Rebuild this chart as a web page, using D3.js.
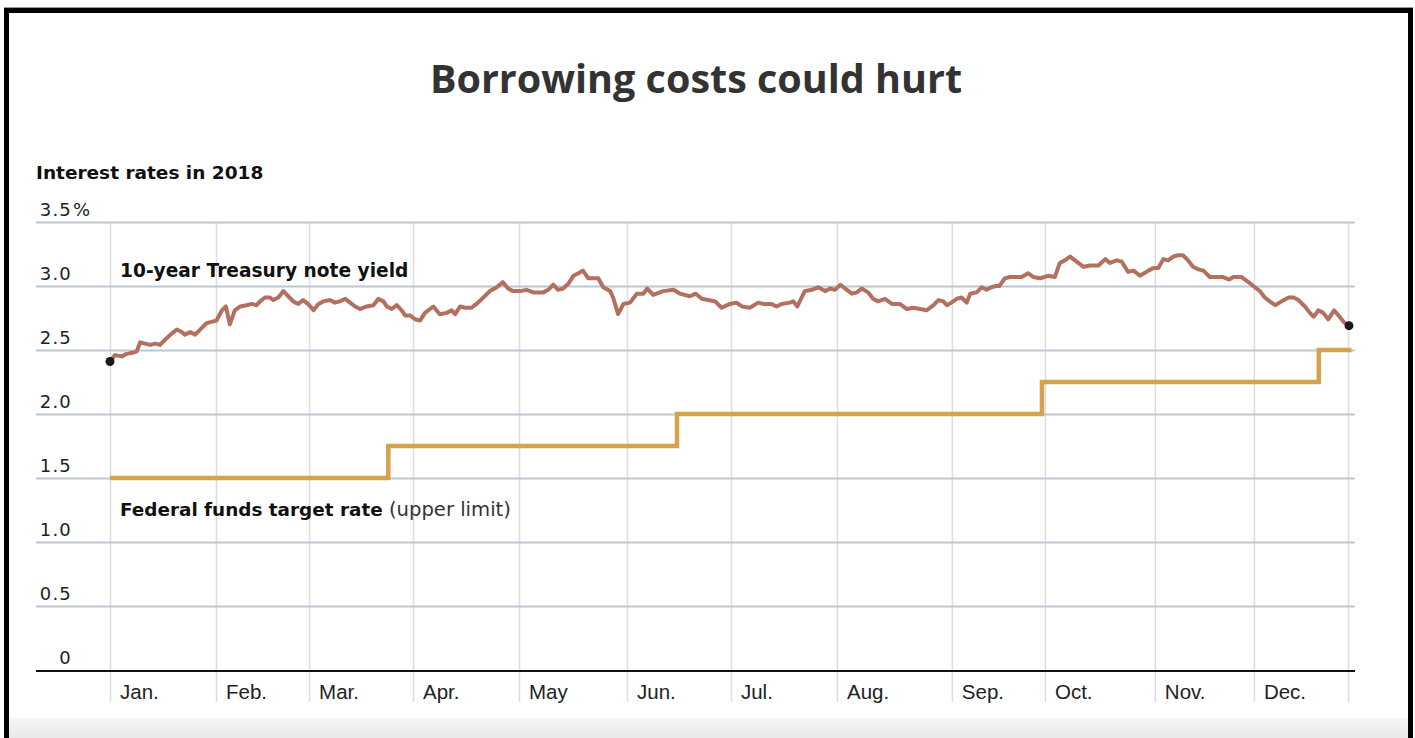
<!DOCTYPE html>
<html>
<head>
<meta charset="utf-8">
<script src="https://cdn.jsdelivr.net/npm/d3@7"></script>
<style>
  html, body { margin: 0; padding: 0; background: #fff; }
  #chart { position: absolute; left: 0; top: 0; width: 1415px; height: 738px; }
</style>
</head>
<body>
<div id="chart"></div>
<script>
// 10-year Treasury yield, [trading day of 2018, percent]
var treasury10y = [
  [0,2.41],[1,2.46],[2.4,2.45],[3.4,2.47],[4.7,2.48],[5.4,2.49],[6.1,2.56],[7.1,2.55],[8.1,2.54],[9.1,2.55],
  [10.1,2.54],[11.1,2.58],[12.5,2.63],[13.5,2.66],[14.5,2.64],[15.1,2.62],[16.2,2.64],[17.2,2.62],[18.2,2.66],[19.5,2.71],
  [20.5,2.72],[21.5,2.73],[22.6,2.81],[23.4,2.84],[24.2,2.70],[25.2,2.81],[26.3,2.84],[27.6,2.85],[28.6,2.86],[29.6,2.85],
  [30.3,2.88],[31.3,2.91],[32.3,2.91],[33,2.89],[34,2.91],[35,2.96],[36,2.92],[37,2.88],[38,2.86],[39,2.89],
  [40,2.86],[41.1,2.81],[42.1,2.86],[43.1,2.88],[44.4,2.89],[45.4,2.87],[46.4,2.88],[47.5,2.90],[48.5,2.87],[49.5,2.84],
  [50.5,2.82],[51.8,2.84],[53.2,2.85],[54.2,2.90],[55.2,2.88],[55.9,2.84],[56.9,2.82],[57.9,2.85],[58.9,2.81],[59.6,2.77],
  [60.6,2.77],[61.6,2.74],[62.6,2.73],[63.6,2.79],[65.3,2.84],[66.6,2.78],[68,2.79],[69,2.81],[69.7,2.78],[70.7,2.84],
  [71.7,2.83],[73,2.83],[74,2.86],[75.4,2.91],[76.7,2.96],[78.1,2.99],[79.3,3.03],[80.4,2.98],[81.4,2.96],[82.8,2.96],
  [84.1,2.97],[85.5,2.95],[87.5,2.95],[88.5,2.97],[89.5,3.01],[90.5,2.97],[91.5,2.98],[92.6,3.02],[93.6,3.08],[94.6,3.10],
  [95.5,3.12],[96.6,3.06],[98.6,3.06],[99.6,2.99],[101,2.96],[101.6,2.91],[102.6,2.78],[103.7,2.86],[105,2.87],[106.4,2.94],
  [107.7,2.94],[108.5,2.98],[109.7,2.93],[111.7,2.96],[113.8,2.97],[115.1,2.94],[117.1,2.92],[118.3,2.94],[119.5,2.90],[120.8,2.89],
  [122.2,2.88],[123.5,2.83],[125.2,2.86],[126.5,2.87],[127.6,2.84],[129.2,2.83],[130.9,2.87],[131.9,2.86],[133.6,2.86],[134.6,2.84],
  [135.6,2.86],[137.3,2.87],[138,2.88],[138.8,2.84],[140.3,2.96],[141.7,2.97],[143,2.99],[144.4,2.96],[145.4,2.98],[146.4,2.97],
  [147.5,3.01],[148.8,2.97],[149.8,2.94],[150.8,2.95],[151.8,2.98],[153.1,2.95],[154.1,2.90],[155.1,2.88],[156.5,2.90],[157.9,2.86],
  [159.5,2.86],[160.9,2.82],[162.2,2.83],[163.6,2.82],[164.9,2.81],[166.3,2.85],[167.3,2.89],[168.3,2.88],[169,2.85],[169.9,2.87],
  [171,2.90],[172,2.91],[173,2.87],[173.7,2.94],[175,2.95],[176,2.99],[177,2.97],[178,2.99],[178.9,3.00],[179.6,3.00],
  [180.7,3.06],[181.7,3.07],[183.1,3.07],[184.1,3.07],[185.4,3.10],[186.5,3.07],[187.8,3.06],[189.5,3.08],[190.8,3.07],[191.8,3.18],
  [192.8,3.20],[193.9,3.23],[195.2,3.19],[196.6,3.15],[197.9,3.16],[199.6,3.16],[201,3.21],[201.9,3.18],[203.3,3.20],[204.3,3.19],
  [205.6,3.11],[206.7,3.12],[208,3.08],[209.7,3.12],[210.7,3.14],[211.7,3.14],[212.7,3.21],[213.7,3.20],[214.7,3.23],[215.7,3.24],
  [216.7,3.24],[217.7,3.20],[218.7,3.15],[219.8,3.13],[220.8,3.12],[222.1,3.07],[223.5,3.07],[224.8,3.07],[226,3.05],[226.8,3.07],
  [228.5,3.07],[229.9,3.03],[231.2,2.99],[232.2,2.96],[233.2,2.91],[234.2,2.88],[235.3,2.85],[236.6,2.88],[238,2.91],[239,2.91],
  [240,2.89],[241.3,2.84],[242.3,2.79],[243.1,2.76],[244,2.81],[245,2.79],[246,2.74],[247.2,2.81],[248.1,2.77],[249.1,2.72],
  [250.2,2.69]
];

// federal funds target (upper limit): day the rate took effect, rate
var fedDays = [0, 56.2, 114.5, 188.2, 244.1, 250.7];
var fedRates = [1.5, 1.75, 2.0, 2.25, 2.5, 2.5];

var monthDays = [0, 21.4, 40.2, 61.2, 82.6, 104.4, 125.4, 146.8, 170, 188.8, 211, 231, 250];
var monthNames = ["Jan.", "Feb.", "Mar.", "Apr.", "May", "Jun.", "Jul.", "Aug.", "Sep.", "Oct.", "Nov.", "Dec."];
var yTicks = [0, 0.5, 1.0, 1.5, 2.0, 2.5, 3.0, 3.5];
var yTickLabels = ["0", "0.5", "1.0", "1.5", "2.0", "2.5", "3.0", "3.5"];

var W = 1415, H = 738;
var left = 36, right = 1355;

var svg = d3.select("#chart").append("svg")
  .attr("width", W).attr("height", H);

// page frame
var defs = svg.append("defs");
var grad = defs.append("linearGradient").attr("id", "foot").attr("x1", 0).attr("y1", 0).attr("x2", 0).attr("y2", 1);
grad.append("stop").attr("offset", "0%").attr("stop-color", "#f6f6f6");
grad.append("stop").attr("offset", "100%").attr("stop-color", "#e9e9e9");
svg.append("rect").attr("x", 9).attr("y", 718).attr("width", 1399).attr("height", 20).attr("fill", "url(#foot)");
svg.append("line").attr("x1", 4).attr("x2", 1413).attr("y1", 7.5).attr("y2", 7.5).attr("stroke", "#999").attr("stroke-width", 1);
svg.append("path")
  .attr("d", "M6.5,745 V10.5 H1410.5 V745")
  .attr("fill", "none").attr("stroke", "#000").attr("stroke-width", 5);

var x = d3.scaleLinear().domain([0, 250]).range([110, 1348]);
var y = d3.scaleLinear().domain([0, 3.5]).range([670, 222]);

// title
svg.append("text")
  .attr("x", 696).attr("y", 93)
  .attr("text-anchor", "middle")
  .style("font-family", "'Open Sans', sans-serif")
  .style("font-weight", 700)
  .style("font-size", "39.5px")
  .attr("fill", "#333")
  .text("Borrowing costs could hurt");

svg.append("text")
  .attr("x", 36).attr("y", 179)
  .style("font-family", "'DejaVu Sans', sans-serif")
  .style("font-weight", 700)
  .style("font-size", "18.5px")
  .attr("fill", "#111")
  .text("Interest rates in 2018");

// vertical month grid
svg.append("g")
  .attr("class", "xgrid")
  .attr("transform", "translate(0,222)")
  .call(d3.axisBottom(x).tickValues(monthDays).tickSize(480).tickFormat(""))
  .call(function(g) {
    g.select(".domain").remove();
    g.selectAll(".tick line").attr("stroke", "#dcdcdc").attr("stroke-width", 1.5);
  });

// horizontal grid
svg.append("g")
  .attr("class", "ygrid")
  .attr("transform", "translate(" + left + ",0)")
  .call(d3.axisRight(y).tickValues(yTicks.slice(1)).tickSize(right - left).tickFormat(""))
  .call(function(g) {
    g.select(".domain").remove();
    g.selectAll(".tick line").attr("stroke", "#b9c8d5").attr("stroke-width", 2);
  });

// zero line
svg.append("line")
  .attr("x1", left).attr("x2", right)
  .attr("y1", y(0) + 1).attr("y2", y(0) + 1)
  .attr("stroke", "#111").attr("stroke-width", 2);

// y labels
svg.append("g").selectAll("text")
  .data(yTicks)
  .enter().append("text")
    .attr("x", 72)
    .attr("y", function(d) { return y(d) - 6; })
    .attr("text-anchor", "end")
    .style("font-family", "'DejaVu Sans', sans-serif")
    .style("font-size", "18px")
    .style("letter-spacing", "1.2px")
    .attr("fill", "#222")
    .text(function(d, i) { return yTickLabels[i]; });
svg.append("text")
  .attr("x", 73).attr("y", y(3.5) - 6)
  .style("font-family", "'DejaVu Sans', sans-serif")
  .style("font-size", "18px")
  .attr("fill", "#222")
  .text("%");

// month labels
svg.append("g").selectAll("text")
  .data(monthNames)
  .enter().append("text")
    .attr("x", function(d, i) { return x(monthDays[i]) + 10; })
    .attr("y", 699)
    .style("font-family", "'Liberation Sans', Arial, sans-serif")
    .style("font-size", "20.5px")
    .attr("fill", "#222")
    .text(function(d) { return d; });

// fed funds step line
var fedLine = d3.line()
  .x(function(d) { return x(d[0]); })
  .y(function(d) { return y(d[1]); })
  .curve(d3.curveStepAfter);

svg.append("path")
  .datum(fedDays.map(function(d, i) { return [d, fedRates[i]]; }))
  .attr("fill", "none")
  .attr("stroke", "#d6a24e")
  .attr("stroke-width", 4.5)
  .attr("d", fedLine);

// treasury line
var tLine = d3.line()
  .x(function(d) { return x(d[0]); })
  .y(function(d) { return y(d[1]); });

svg.append("path")
  .datum(treasury10y)
  .attr("fill", "none")
  .attr("stroke", "#b4705f")
  .attr("stroke-width", 4)
  .attr("stroke-linejoin", "round")
  .attr("d", tLine);

svg.selectAll(".endDot")
  .data([treasury10y[0], treasury10y[treasury10y.length - 1]])
  .enter().append("circle")
    .attr("class", "endDot")
    .attr("cx", function(d) { return x(d[0]); })
    .attr("cy", function(d) { return y(d[1]); })
    .attr("r", 4.5)
    .attr("fill", "#1a1a1a");

// series labels
svg.append("text")
  .attr("x", 120).attr("y", 277)
  .style("font-family", "'DejaVu Sans', sans-serif")
  .style("font-weight", 700)
  .style("font-size", "18.6px")
  .attr("fill", "#111")
  .text("10-year Treasury note yield");

var fedLabel = svg.append("text")
  .attr("x", 120).attr("y", 516)
  .style("font-family", "'DejaVu Sans', sans-serif")
  .style("font-size", "18.4px")
  .attr("fill", "#111");
fedLabel.append("tspan").style("font-weight", 700).text("Federal funds target rate");
fedLabel.append("tspan").attr("fill", "#333").style("font-size", "19.6px").text(" (upper limit)");
</script>
</body>
</html>
